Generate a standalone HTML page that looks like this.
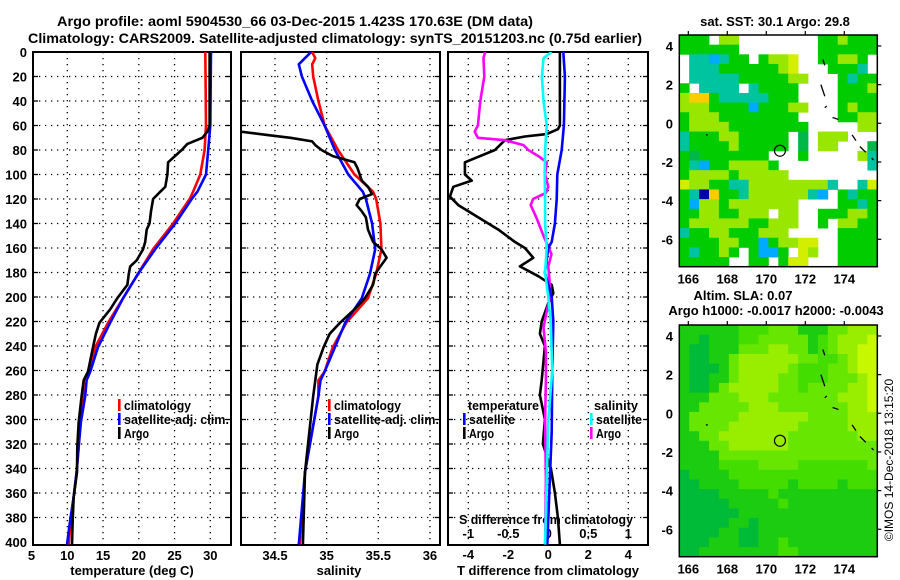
<!DOCTYPE html>
<html><head><meta charset="utf-8"><style>
html,body{margin:0;padding:0;background:#fff;}
svg{display:block;font-family:"Liberation Sans",Arial,sans-serif;font-weight:bold;}
</style></head><body>
<svg id="chart" width="900" height="580" viewBox="0 0 900 580" xmlns="http://www.w3.org/2000/svg">
<rect width="900" height="580" fill="#fff"/>
<text x="57" y="26" font-size="14" textLength="476" lengthAdjust="spacingAndGlyphs">Argo profile: aoml 5904530_66 03-Dec-2015 1.423S 170.63E (DM data)</text>
<text x="28" y="43" font-size="14" textLength="614" lengthAdjust="spacingAndGlyphs">Climatology: CARS2009. Satellite-adjusted climatology: synTS_20151203.nc (0.75d earlier)</text>
<g id="g"></g>
</svg>
<script>
// ---------- data ----------
const depthTicks=[0,20,40,60,80,100,120,140,160,180,200,220,240,260,280,300,320,340,360,380,400];
const tempTicks=[5,10,15,20,25,30];
const salTicks=[34.5,35,35.5,36];
const dTTicks=[-4,-2,0,2,4];
const dSTicks=[-1,-0.5,0,0.5,1];

const climT_d=[0,60,80,100,114,120,140,161,181,201,221,241,261,268,281,302,322,343,363,382,402];
const climT_v=[29.3,29.4,29.2,28.6,27.6,27.1,24.8,22.0,19.9,17.8,15.7,13.9,12.9,12.3,12.25,11.8,11.6,11.3,10.9,10.5,10.2];
const satT_d=[0,60,80,100,114,120,140,161,181,201,221,241,261,268,281,302,322,343,363,382,402];
const satT_v=[30.1,30.0,29.7,29.4,28.2,27.4,25.1,22.3,19.9,17.8,16.0,14.3,13.2,12.7,12.5,11.9,11.6,11.3,10.9,10.4,9.96];
const argoT_d=[0,60,65,70,75,80,90,100,110,114,120,130,140,145,155,161,170,175,181,190,201,210,221,230,241,261,268,281,302,322,343,363,382,402];
const argoT_v=[29.9,29.9,29.6,28.9,26.8,26.0,24.1,24.0,23.7,23.0,22.0,21.7,21.5,21.1,20.9,20.6,19.7,18.8,18.6,18.4,17.0,16.0,14.5,14.0,13.6,12.9,12.3,12.0,11.6,11.4,11.35,10.9,10.75,10.66];

const climS_d=[0,5,10,20,40,60,80,100,114,120,140,161,181,201,221,241,261,268,281,343,402];
const climS_v=[34.86,34.89,34.86,34.87,34.92,34.98,35.11,35.27,35.45,35.48,35.52,35.53,35.48,35.40,35.19,35.06,34.98,34.92,34.92,34.79,34.74];
const satS_d=[0,5,10,20,40,60,80,100,114,120,140,161,181,201,221,241,261,268,281,343,402];
const satS_v=[34.85,34.79,34.73,34.76,34.86,34.98,35.08,35.21,35.35,35.38,35.44,35.47,35.42,35.34,35.18,35.08,34.98,34.94,34.92,34.79,34.73];
const argoS_d=[65,68,70,73,76,80,85,90,95,100,105,110,116,120,125,130,135,145,155,161,168,175,181,190,201,210,221,230,241,255,268,281,343,402];
const argoS_v=[34.16,34.45,34.65,34.86,34.89,34.95,35.06,35.27,35.30,35.32,35.34,35.40,35.44,35.32,35.29,35.34,35.38,35.40,35.45,35.53,35.58,35.52,35.47,35.45,35.37,35.27,35.13,35.03,34.97,34.91,34.89,34.87,34.79,34.77];

const argoDT_d=[0,60,63,67,69,72,80,90,100,105,110,118,125,135,145,155,160,168,175,183,190,197,205,220,230,240,268,280,300,320,340,360,380,402];
const argoDT_v=[0.58,0.58,0.48,-0.08,-1.17,-2.17,-2.67,-4.17,-4.17,-3.83,-4.75,-4.92,-4.5,-3.5,-2.5,-1.67,-1.17,-0.75,-1.42,-0.5,0.17,0.25,0,-0.33,-0.42,-0.17,-0.33,-0.42,-0.17,-0.27,0.13,0.33,0.48,0.58];
const satDT_d=[0,20,60,80,100,120,140,155,160,180,200,220,260,310,402];
const satDT_v=[0.75,0.83,0.78,0.67,0.45,0.42,0.33,0.17,0,-0.17,0.17,0.25,0.2,0.17,-0.05];
const satDS_d=[0,5,20,40,60,80,100,120,140,160,180,200,220,260,300,402];
const satDS_v=[0.04,-0.06,-0.08,-0.06,-0.02,-0.04,-0.045,-0.04,-0.04,-0.02,-0.04,0,0.03,0.05,0,-0.04];
const argoDS_d=[0,5,20,40,60,65,70,72,76,80,85,90,100,110,115,120,125,135,150,165,175,190,200,215,225,245,268,300,350,402];
const argoDS_v=[-0.79,-0.81,-0.8,-0.85,-0.88,-0.92,-0.88,-0.54,-0.31,-0.25,-0.125,-0.02,-0.04,0,-0.03,-0.19,-0.22,-0.15,-0.06,0.04,0,0.02,0.02,-0.03,-0.06,-0.03,-0.03,-0.04,-0.03,-0.04];

const lonTicks=[166,168,170,172,174];
const latTicks=[4,2,0,-2,-4,-6];
const argoLon=170.7, argoLat=-1.42;
const sstRows=[
"ggg.yy........ggyggg","gggggg........gggggg",".ccbcgg.gyyY..ggyyg.",".cccggggggyY...gggc.",
".cccccgggggyy...gcgg","g.cccc.cgggg....gggy","yOOgcccccggg....gggg","yyyggggbgggyy...gygg",
"gyyygggggggg....ggyy","gyyyygggggggg.....yy","cgggyyggggg.d.yyy...","cggggyggggg.d.yy...d",
"gdggggggg...g.....yc","gcbggyyyyg.........c","gyyyygyyyyy.........","Yyyggccyyyyyyyyc..cY",
"gcBOggcyyyyyycb.gcgg","gbyygyyyyyyy....ggcg","ggyyggyyy.yy..gggyyg","gyyyyyyggyyy..g.yygg",
"cggyygggyyy.....gggg","ggggyyggbgyyYY..gggg","gcggyg.gbbg.Yy..gggg","ggggg..gg.gYY...gggg"];
const slaRows=[
"ggggggGGGlllgggllyyy","ggdgggGGlllllgGlyyyY","gddggglllyyllgGlyyYY","gddgglyyyyyyllGGlyYY",
"gdddglyyyyylGGGllyYY","gddgglyyyyllGGGlllyY","gddglyyyyyllGllllyyY","ggglllyyylllllllyyyY",
"gglllllyyylllllllyyY","glllllyyyyyyyllllyyy","gllllyyyyyyylllllyyy","ggllyyyyyyylllllllyy",
"gggllyyyyyyllllllllly","ggggllllllllllllllll","ggggGGGGllllGGGGGGGl","dggggGGGGGGGGGGGGGGG",
"ddggggGGGGGgGGGGgGGG","ddddgggggGgggggggggg","dddddgggggGggggggggg","ddddddgggggggggggggg",
"dddddggdgggggggggggg","ddddggddgggggggggggg","dddgggddggGggggggggg","ddggggggggGGgggggggg"];
</script>
<script>
const NS="http://www.w3.org/2000/svg";
const G=document.getElementById('g');
function el(tag,attrs,parent){const e=document.createElementNS(NS,tag);for(const k in attrs)e.setAttribute(k,attrs[k]);(parent||G).appendChild(e);return e;}
function txt(s,x,y,size,anchor,parent){const t=el('text',{x:x,y:y,'font-size':size,'text-anchor':anchor||'start'},parent);t.textContent=s;return t;}

const Y0=52, YS=1.225, YB=545;
const yD=d=>Y0+d*YS;
const xT=v=>67.3+(v-10)*7.15;
const xS=v=>275+(v-34.5)*103.3;
const xDT=v=>548.3+v*20;
const xDS=v=>548.3+v*80;
const panels=[{x0:33,x1:231,name:'temperature-panel'},{x0:241,x1:440,name:'salinity-panel'},{x0:448,x1:648,name:'difference-panel'}];

const defs=el('defs',{});
panels.forEach((p,i)=>{const c=el('clipPath',{id:'clip'+i},defs);el('rect',{x:p.x0,y:Y0,width:p.x1-p.x0,height:YB-Y0},c);});

function panelFrame(p,i,xticks,xf){
  const g=el('g',{});
  
  
  depthTicks.forEach(d=>{ if(d>0&&d<400){
    const l=el('line',{x1:p.x0,x2:p.x1,y1:yD(d),y2:yD(d),stroke:'#000','stroke-width':1.3,'stroke-dasharray':'1.3 4.7'},g);
    
    
    el('line',{x1:p.x0,x2:p.x0+5,y1:yD(d),y2:yD(d),stroke:'#000','stroke-width':1.3},g);
    el('line',{x1:p.x1-5,x2:p.x1,y1:yD(d),y2:yD(d),stroke:'#000','stroke-width':1.3},g);
  }});
  xticks.forEach(v=>{const x=xf(v); if(x>p.x0+2&&x<p.x1-2){
    const l=el('line',{x1:x,x2:x,y1:Y0,y2:YB,stroke:'#000','stroke-width':1.3,'stroke-dasharray':'1.3 4.7'},g);
    
    
  }});
  const r=el('rect',{x:p.x0,y:Y0,width:p.x1-p.x0,height:YB-Y0,fill:'none',stroke:'#000','stroke-width':2},g);
  
  
}
panelFrame(panels[0],0,tempTicks,xT);
panelFrame(panels[1],1,salTicks,xS);
panelFrame(panels[2],2,dTTicks,xDT);

depthTicks.forEach(d=>{const t=txt(String(d),27,yD(d)+5,13,'end');

});

function xlabels(ticks,xf,y){ticks.forEach(v=>{const t=txt(String(v),xf(v),y,13,'middle');

});}
xlabels(tempTicks,xT,560);
xlabels(salTicks,xS,560);
xlabels(dTTicks,xDT,559);
xlabels(dSTicks,xDS,538);
let t;
t=txt('temperature (deg C)',132,575,13,'middle');


t=txt('salinity',339,575,13,'middle');


t=txt('T difference from climatology',548,575,13,'middle');


t=txt('S difference from climatology',459,524,13,'start');
t.setAttribute('textLength','174');
t.setAttribute('lengthAdjust','spacingAndGlyphs');



function series(ds,vs,xf,color,clip,name){
  const pts=ds.map((d,i)=>xf(vs[i]).toFixed(1)+','+yD(d).toFixed(1)).join(' ');
  const pl=el('polyline',{points:pts,fill:'none',stroke:color,'stroke-width':2.6,'stroke-linejoin':'round','clip-path':'url(#clip'+clip+')'});
  
  
}
series(climT_d,climT_v,xT,'#ff0000',0,'climatology-temperature-line');
series(satT_d,satT_v,xT,'#0000ff',0,'satellite-temperature-line');
series(argoT_d,argoT_v,xT,'#000000',0,'argo-temperature-line');
series(climS_d,climS_v,xS,'#ff0000',1,'climatology-salinity-line');
series(satS_d,satS_v,xS,'#0000ff',1,'satellite-salinity-line');
series(argoS_d,argoS_v,xS,'#000000',1,'argo-salinity-line');
series(argoDT_d,argoDT_v,xDT,'#000000',2,'argo-t-difference-line');
series(argoDS_d,argoDS_v,xDS,'#ff00ff',2,'argo-s-difference-line');
series(satDT_d,satDT_v,xDT,'#0000ff',2,'satellite-t-difference-line');
series(satDS_d,satDS_v,xDS,'#00ffff',2,'satellite-s-difference-line');

function legend(x,y,color,label,name,w){
  const g=el('g',{});
  
  
  if(color) el('rect',{x:x,y:y-11,width:2.6,height:12,fill:color},g);
  const tt=txt(label,x+6,y,13,'start',g);
  if(w){tt.setAttribute('textLength',w);tt.setAttribute('lengthAdjust','spacingAndGlyphs');}
}
legend(118,410,'#ff0000','climatology','legend-entry-climatology',67);
legend(118,424,'#0000ff','satellite-adj. clim.','legend-entry-satellite',105);
legend(118,438,'#000000','Argo','legend-entry-argo',25);
legend(328,410,'#ff0000','climatology','legend-entry-climatology-sal',67);
legend(328,424,'#0000ff','satellite-adj. clim.','legend-entry-satellite-sal',105);
legend(328,438,'#000000','Argo','legend-entry-argo-sal',25);
legend(462,410,null,'temperature','legend-header-temperature',71);
legend(463,424,'#0000ff','satellite','legend-entry-t-satellite',46);
legend(463,438,'#000000','Argo','legend-entry-t-argo',25);
legend(588,410,null,'salinity','legend-header-salinity',44);
legend(590,424,'#00ffff','satellite','legend-entry-s-satellite',46);
legend(590,438,'#ff00ff','Argo','legend-entry-s-argo',25);

// ---------- maps ----------
const MX0=679.3, MX1=877.3;
const lonX=lon=>688.3+(lon-166)*19.5;
const sstCol={'g':'#00cc00','d':'#00b848','y':'#99e600','Y':'#d4ee00','O':'#ffcc00','c':'#00c4a0','C':'#00d0d0','b':'#00aaff','B':'#0000aa'};
const slaCol={'d':'#00bb38','g':'#1ccc10','G':'#44dd00','l':'#66e600','y':'#99ee00','Y':'#c8f800'};
function drawMap(top,rows,cols,name,title1,title2){
  const bottom=top+231.7;
  const latY=lat=>top+88.3-lat*19.33;
  const g=el('g',{});
  
  
  const cw=(MX1-MX0)/20, ch=(bottom-top)/rows.length;
  rows.forEach((r,ri)=>{for(let ci=0;ci<20;ci++){const c=r[ci]||r[r.length-1];const f=cols[c];
    if(f){const cell=el('rect',{x:(MX0+ci*cw).toFixed(2),y:(top+ri*ch).toFixed(2),width:(cw+0.4).toFixed(2),height:(ch+0.4).toFixed(2),fill:f},g);
    
    }}});
  const coast=[[172.9,3.3,173.0,3.0],[172.8,2.0,173.0,1.4],[173.1,0.9,173.0,0.8],[173.4,0.3,173.7,0.2],[174.4,-0.6,174.6,-0.9],[174.8,-1.2,175.1,-1.5],[175.4,-1.8,175.5,-1.9],[167.0,-0.6,166.9,-0.6]];
  coast.forEach(c=>{const l=el('line',{x1:lonX(c[0]),y1:latY(c[1]),x2:lonX(c[2]),y2:latY(c[3]),stroke:'#000','stroke-width':1.3},g);
  
  });
  const pt=el('circle',{cx:lonX(argoLon),cy:latY(argoLat),r:5.5,fill:'none',stroke:'#000','stroke-width':1.2},g);
  
  
  el('rect',{x:MX0,y:top,width:MX1-MX0,height:bottom-top,fill:'none',stroke:'#000','stroke-width':1.5},g);
  lonTicks.forEach(l=>{const x=lonX(l);
    el('line',{x1:x,x2:x,y1:top-4,y2:top,stroke:'#000','stroke-width':1.2},g);
    const tl=txt(String(l),x,bottom+17,13,'middle',g);
    
    });
  latTicks.forEach(l=>{const y=latY(l);
    el('line',{x1:MX1,x2:MX1+4,y1:y,y2:y,stroke:'#000','stroke-width':1.2},g);
    const tl=txt(String(l),673,y+5,13,'end',g);
    
    });
  if(title1){const tt=txt(title1,title2?743:775,title2?top-25:top-9,13,'middle',g);
    
    }
  if(title2){const tt=txt(title2,776,top-10,13,'middle',g);
    
    }
}
drawMap(35,sstRows,sstCol,'sst-map','sat. SST: 30.1 Argo: 29.8',null);
drawMap(325,slaRows,slaCol,'sla-map','Altim. SLA: 0.07','Argo h1000: -0.0017 h2000: -0.0043');
t=el('text',{x:0,y:0,'font-size':12,'font-weight':'normal','text-anchor':'middle',transform:'translate(893,460) rotate(-90)'});
t.textContent='©IMOS 14-Dec-2018 13:15:20';


</script>
</body></html>
